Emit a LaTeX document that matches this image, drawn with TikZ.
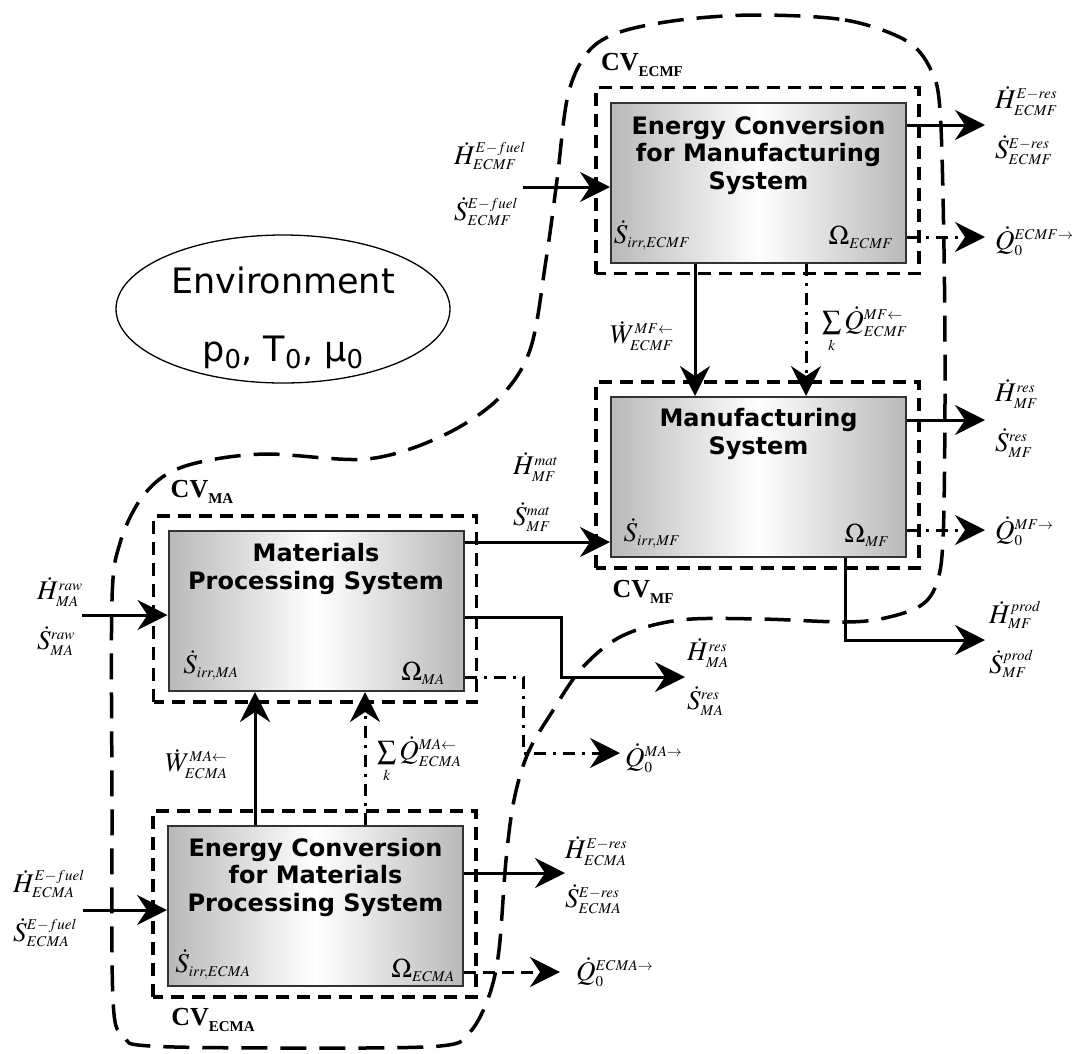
\documentclass[tikz,border=0pt]{standalone}
\usepackage{mathptmx}
\usepackage{fontspec}
\usetikzlibrary{arrows.meta,shapes.geometric,calc}
\newfontfamily\titlefont{DejaVu Sans}
\newfontfamily\cvfont{Liberation Serif}
\DeclareMathSizes{27}{27}{15}{11}
\begin{document}
\begin{tikzpicture}[x=1pt,y=-1pt,
  sysbox/.style={draw=black!80, line width=2pt, left color=gray!55, right color=gray!55, middle color=white, minimum width=295pt, minimum height=160pt, inner sep=0pt},
  cvline/.style={line width=3.5pt, dash pattern=on 13pt off 8pt},
  bound/.style={line width=3.5pt, dash pattern=on 26pt off 13pt},
  flow/.style={line width=3pt, -{Stealth[length=30pt,width=30pt,inset=10pt]}},
  dd/.style={dash pattern=on 12pt off 7pt on 3pt off 7pt},
  dq/.style={dash pattern=on 12pt off 7pt},
  lab/.style={inner sep=0pt, font=\fontsize{27}{30}\selectfont, anchor=west},
  irr/.style={inner sep=0pt, font=\fontsize{27}{30}\selectfont},
  title/.style={font=\titlefont\bfseries\fontsize{24}{27.5}\selectfont, align=center, inner sep=0pt},
  cvlab/.style={inner sep=0pt, font=\cvfont\bfseries\fontsize{26}{28}\selectfont}]
\useasboundingbox (0,0) rectangle (1075,1053);

% outer control-volume boundary
\draw[bound] plot[smooth cycle, tension=0.55] coordinates {
 (756,15) (845,20) (905,40) (930,68) (940,110) (944,250) (945,400) (943,540)
 (936,585) (920,606) (885,618) (845,622) (760,619) (680,620) (622,636) (582,668)
 (552,712) (528,753) (514,800) (506,860) (499,950) (489,996) (470,1032) (440,1046)
 (300,1048) (150,1046) (124,1036) (113,1000) (112,800) (112,600) (120,543) (140,500)
 (167,474) (205,461) (267,454) (367,459) (440,437) (497,400) (530,350) (546,260)
 (557,180) (568,95) (588,52) (620,32) (680,20)};

% environment
\node[draw, ellipse, line width=1.3pt, minimum width=334pt, minimum height=148pt, inner sep=0pt] (env) at (283,309) {};
\node[font=\titlefont\fontsize{35}{68}\selectfont, align=center, inner sep=0pt] (envtxt) at (283,318) {Environment\\p\textsubscript{0}, T\textsubscript{0}, μ\textsubscript{0}};

% systems
\node[sysbox] (ecmf) at (758.5,182.5) {};
\node[sysbox] (mf) at (758.5,477) {};
\node[sysbox] (ma) at (316,611) {};
\node[sysbox] (ecma) at (315.5,906) {};

\foreach \b in {ecmf,mf,ma,ecma}
  \draw[cvline] ($(\b.south west)+(-14,10)$) rectangle ($(\b.north east)+(12,-14)$);

\node[title] (ecmft) at (758.5,155) {Energy Conversion\\for Manufacturing\\System};
\node[title] (mft) at (758.5,434) {Manufacturing\\System};
\node[title] (mat) at (316,569) {Materials\\Processing System};
\node[title] (ecmat) at (315.5,877) {Energy Conversion\\for Materials\\Processing System};

\node[irr] (irr1) at (652,235) {$\dot{S}_{irr,ECMF}$};
\node[irr] (om1) at (861,237) {$\Omega_{ECMF}$};
\node[irr] (irr2) at (652,533) {$\dot{S}_{irr,MF}$};
\node[irr] (om2) at (867,535) {$\Omega_{MF}$};
\node[irr] (irr3) at (211,665) {$\dot{S}_{irr,MA}$};
\node[irr] (om3) at (423,673) {$\Omega_{MA}$};
\node[irr] (irr4) at (213,964) {$\dot{S}_{irr,ECMA}$};
\node[irr] (om4) at (423,970) {$\Omega_{ECMA}$};

\node[cvlab] (cv1) at (642,65) {CV\raisebox{-6pt}{\fontsize{15}{15}\selectfont ECMF}};
\node[cvlab] (cv2) at (643,592) {CV\raisebox{-6pt}{\fontsize{15}{15}\selectfont MF}};
\node[cvlab] (cv3) at (202,492) {CV\raisebox{-6pt}{\fontsize{15}{15}\selectfont MA}};
\node[cvlab] (cv4) at (213,1020) {CV\raisebox{-6pt}{\fontsize{15}{15}\selectfont ECMA}};

% ECMF flows
\coordinate (ecmfin) at (523,187);
\coordinate (ecmfres) at (985,125);
\coordinate (ecmfq) at (985,237);
\coordinate (w1) at (695,0);
\coordinate (w2) at (806,0);
\draw[flow] (ecmfin) -- (ecmfin -| ecmf.west);
\draw[flow] (ecmfres -| ecmf.east) -- (ecmfres);
\draw[flow,dd] (ecmfq -| ecmf.east) -- (ecmfq);
\draw[flow] (ecmf.south -| w1) -- (mf.north -| w1);
\draw[flow,dd] (ecmf.south -| w2) -- (mf.north -| w2);

% MF flows
\coordinate (mfres) at (985,420);
\coordinate (mfq) at (985,530);
\coordinate (mfp) at (985,640);
\coordinate (mfpx) at (845,0);
\coordinate (mati) at (0,542);
\draw[flow] (mfres -| mf.east) -- (mfres);
\draw[flow,dd] (mfq -| mf.east) -- (mfq);
\draw[flow] (mf.south -| mfpx) |- (mfp);
\draw[flow] (mati -| ma.east) -- (mati -| mf.west);

% MA flows
\coordinate (main) at (82,615);
\coordinate (maresy) at (561,617);
\coordinate (mares) at (685,677);
\coordinate (maqc) at (523,677);
\coordinate (maq) at (620,753);
\coordinate (w3) at (255,0);
\coordinate (w4) at (365,0);
\draw[flow] (main) -- (main -| ma.west);
\draw[flow] (maresy -| ma.east) -- (maresy) |- (mares);
\draw[flow,dd] (maqc -| ma.east) -- (maqc) |- (maq);
\draw[flow] (ecma.north -| w3) -- (ma.south -| w3);
\draw[flow,dd] (ecma.north -| w4) -- (ma.south -| w4);

% ECMA flows
\coordinate (ecmain) at (83,910);
\coordinate (ecmares) at (565,873);
\coordinate (ecmaq) at (560,972);
\draw[flow] (ecmain) -- (ecmain -| ecma.west);
\draw[flow] (ecmares -| ecma.east) -- (ecmares);
\draw[flow,dq] (ecmaq -| ecma.east) -- (ecmaq);

% labels
\node[lab] (l1) at (454,156) {$\dot{H}^{E-fuel}_{ECMF}$};
\node[lab] (l2) at (454,212) {$\dot{S}^{E-fuel}_{ECMF}$};
\node[lab] (l3) at (995,101) {$\dot{H}^{E-res}_{ECMF}$};
\node[lab] (l4) at (995,150) {$\dot{S}^{E-res}_{ECMF}$};
\node[lab] (l5) at (995,241) {$\dot{Q}_0^{ECMF\rightarrow}$};
\node[lab] (l6) at (610,336) {$\dot{W}^{MF\leftarrow}_{ECMF}$};
\node[lab] (l7) at (822,330) {$\sum\limits_{k}\dot{Q}^{MF\leftarrow}_{ECMF}$};
\node[lab] (l8) at (995,394) {$\dot{H}^{res}_{MF}$};
\node[lab] (l9) at (995,443) {$\dot{S}^{res}_{MF}$};
\node[lab] (l10) at (995,531) {$\dot{Q}_0^{MF\rightarrow}$};
\node[lab] (l11) at (989,615) {$\dot{H}^{prod}_{MF}$};
\node[lab] (l12) at (989,664) {$\dot{S}^{prod}_{MF}$};
\node[lab] (l13) at (513,467) {$\dot{H}^{mat}_{MF}$};
\node[lab] (l14) at (513,517) {$\dot{S}^{mat}_{MF}$};
\node[lab] (l15) at (37,592) {$\dot{H}^{raw}_{MA}$};
\node[lab] (l16) at (37,641) {$\dot{S}^{raw}_{MA}$};
\node[lab] (l17) at (687,653) {$\dot{H}^{res}_{MA}$};
\node[lab] (l18) at (687,701) {$\dot{S}^{res}_{MA}$};
\node[lab] (l19) at (625,758) {$\dot{Q}_0^{MA\rightarrow}$};
\node[lab] (l20) at (165,764) {$\dot{W}^{MA\leftarrow}_{ECMA}$};
\node[lab] (l21) at (377,760) {$\sum\limits_{k}\dot{Q}^{MA\leftarrow}_{ECMA}$};
\node[lab] (l22) at (13,884) {$\dot{H}^{E-fuel}_{ECMA}$};
\node[lab] (l23) at (13,933) {$\dot{S}^{E-fuel}_{ECMA}$};
\node[lab] (l24) at (565,851) {$\dot{H}^{E-res}_{ECMA}$};
\node[lab] (l25) at (565,899) {$\dot{S}^{E-res}_{ECMA}$};
\node[lab] (l26) at (576,972) {$\dot{Q}_0^{ECMA\rightarrow}$};
\end{tikzpicture}
\end{document}
